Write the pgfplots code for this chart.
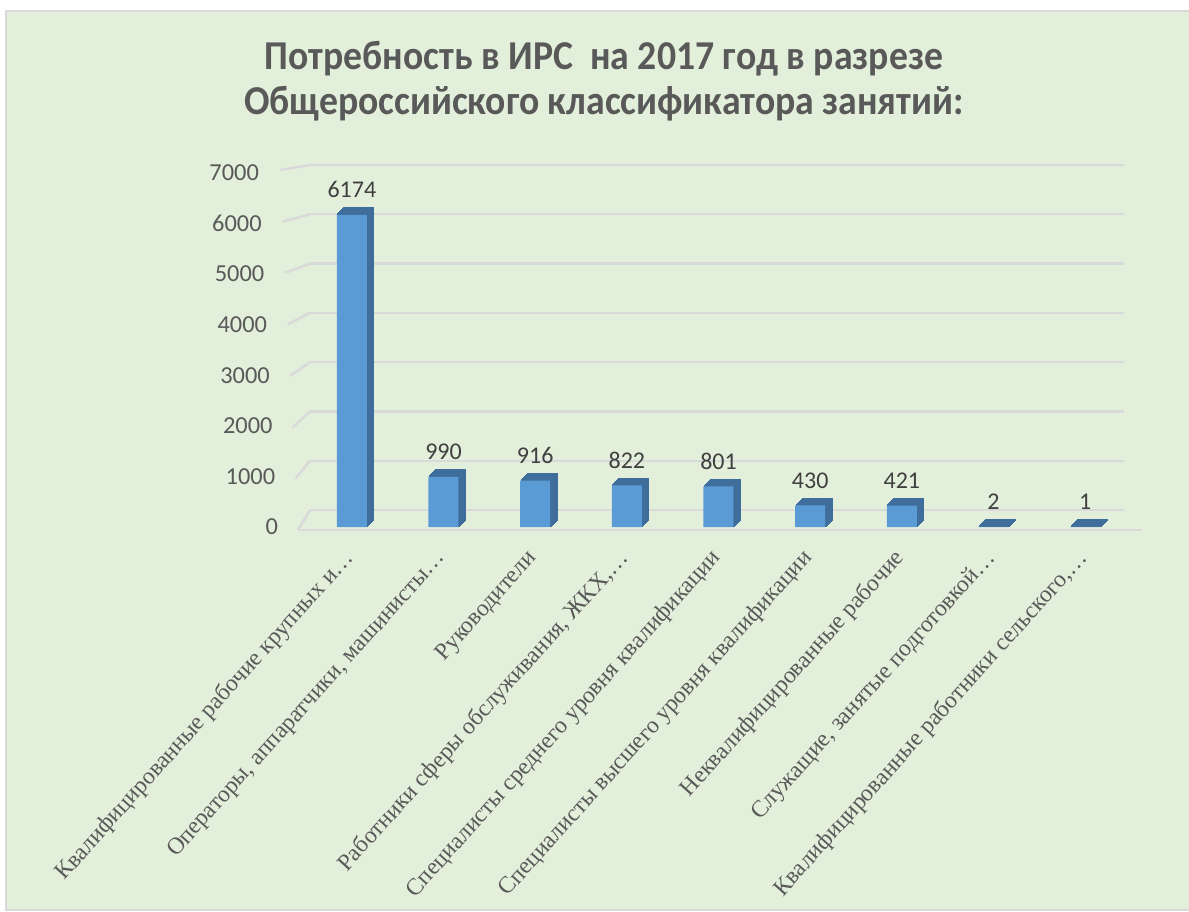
\documentclass[border=0pt]{standalone}
\usepackage{fontspec}
\setmainfont{Liberation Serif}
\newfontfamily\carlito{Carlito}
\usepackage{pgfplots}
\usepackage{pgfplotstable}
\pgfplotsset{compat=1.18}

\definecolor{bg}{HTML}{E2EFDA}
\definecolor{frame}{HTML}{D9D9D9}
\definecolor{gridc}{HTML}{D9D9D9}
\definecolor{barfront}{HTML}{5B9BD5}
\definecolor{bardark}{HTML}{3F6E9C}
\definecolor{txtgray}{HTML}{595959}
\definecolor{txtdark}{HTML}{404040}

\pgfplotstableread{
x y
0 6174
1 990
2 916
3 822
4 801
5 430
6 421
7 2
8 1
}\ircdata

\begin{document}
\begin{tikzpicture}
\useasboundingbox (0,0) rectangle (594.5pt,455.5pt);
\fill[white] (0,0) rectangle (594.5pt,455.5pt);
\filldraw[fill=bg, draw=frame, line width=1pt] (3pt,0.5pt) rectangle (600pt,450pt);

% title
\node[text=txtgray, anchor=base] at (302pt,420.5pt)
  {\scalebox{0.92}[1]{\carlito\fontsize{20.5}{24}\selectfont\bfseries Потребность в ИРС\ \ на 2017 год в разрезе}};
\node[text=txtgray, anchor=base] at (302pt,398pt)
  {\scalebox{0.92}[1]{\carlito\fontsize{20.5}{24}\selectfont\bfseries Общероссийского классификатора занятий:}};

% back wall grid
\begin{axis}[
  at={(155pt,200.5pt)}, anchor=south west,
  scale only axis, width=407pt, height=172.5pt,
  xmin=0, xmax=1, ymin=0, ymax=7000,
  xtick=\empty, ytick={0,1000,...,7000}, yticklabels={},
  ymajorgrids, grid style={gridc, line width=1.2pt},
  axis line style={draw=none}, major tick style={draw=none},
]
\end{axis}
% side stubs and floor
\foreach \k in {0,...,7}{
  \draw[gridc, line width=1.2pt]
    ({(280+18*(7-\k)/7)/2*1pt},{(190.5+25.71*\k)*1pt}) -- (155pt,{(200.5+24.64*\k)*1pt});
}
\draw[gridc, line width=1.2pt] (149pt,190.5pt) -- (571pt,190.5pt);

% bars
\begin{axis}[
  at={(153pt,192pt)}, anchor=south west,
  scale only axis, width=412.5pt, height=177pt,
  xmin=-0.5, xmax=8.5, ymin=0, ymax=7000,
  axis line style={draw=none}, major tick style={draw=none},
  ybar, bar width=15pt,
  xtick=data,
  xticklabels={{Квалифицированные рабочие крупных и…},{Операторы, аппаратчики, машинисты…},{Руководители},{Работники сферы обслуживания, ЖКХ,…},{Специалисты среднего уровня квалификации},{Специалисты высшего уровня квалификации},{Неквалифицированные рабочие},{Служащие, занятые подготовкой…},{Квалифицированные работники сельского,…}},
  xticklabel style={yshift=-7pt, xshift=1.5pt, rotate=48, anchor=east, text=txtgray, font=\fontsize{11.8}{13}\selectfont},
  ytick={0,1000,...,7000},
  yticklabel style={font=\carlito\fontsize{12.2}{14}\selectfont, text=txtgray, anchor=east, xshift={-(10.5pt+1.36pt*\ticknum)}},
  /pgf/number format/assume math mode=true,
  /pgf/number format/1000 sep={},
  clip=false,
]
\pgfplotsinvokeforeach{3.5,3,2.5,2,1.5,1,0.5}{
  \addplot[ybar, bar shift=#1pt, yshift=#1pt, fill=bardark, draw=bardark, line width=0.6pt] table[x=x,y=y]{\ircdata};
}
\addplot[ybar, bar shift=0pt, fill=barfront, draw=none,
  nodes near coords,
  every node near coord/.append style={font=\carlito\fontsize{12}{14}\selectfont, text=txtdark, yshift=5pt, /pgf/number format/assume math mode=true}
] table[x=x,y=y]{\ircdata};
\end{axis}
\end{tikzpicture}
\end{document}
